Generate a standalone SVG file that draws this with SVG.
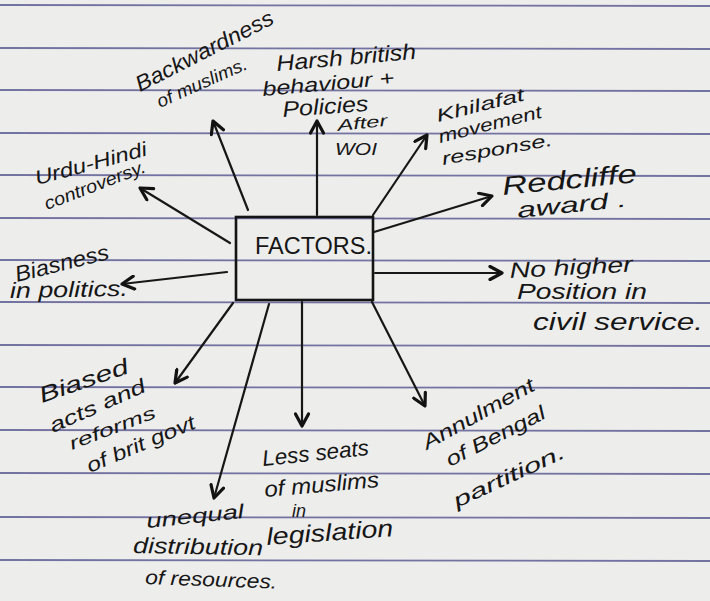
<svg xmlns="http://www.w3.org/2000/svg" width="710" height="601" viewBox="0 0 710 601">
<style>
.ruled{stroke:#5e5e94;stroke-width:1.8;opacity:0.85}
.ink{font-family:"Liberation Sans","DejaVu Sans",sans-serif;fill:#161616;font-style:italic}
.conn{stroke:#171717;stroke-width:2.2;fill:none;stroke-linecap:round;marker-end:url(#ah)}
</style>
<defs>
<marker id="ah" viewBox="0 0 16 16" refX="14" refY="8" markerWidth="16" markerHeight="16" markerUnits="userSpaceOnUse" orient="auto">
<path d="M2,1.5 L14,8 L2,14.5" fill="none" stroke="#121212" stroke-width="3.2" stroke-linecap="round" stroke-linejoin="round"/>
</marker>
</defs>
<rect x="0" y="0" width="710" height="601" fill="#ededec"/>
<g id="paper-lines">
<line class="ruled" x1="0" y1="5" x2="710" y2="6"/>
<line class="ruled" x1="0" y1="48" x2="710" y2="49"/>
<line class="ruled" x1="0" y1="90" x2="710" y2="91"/>
<line class="ruled" x1="0" y1="133" x2="710" y2="134"/>
<line class="ruled" x1="0" y1="175" x2="710" y2="176"/>
<line class="ruled" x1="0" y1="218" x2="710" y2="219"/>
<line class="ruled" x1="0" y1="260" x2="710" y2="261"/>
<line class="ruled" x1="0" y1="302" x2="710" y2="303"/>
<line class="ruled" x1="0" y1="345" x2="710" y2="346"/>
<line class="ruled" x1="0" y1="387" x2="710" y2="388"/>
<line class="ruled" x1="0" y1="430" x2="710" y2="431"/>
<line class="ruled" x1="0" y1="473" x2="710" y2="474"/>
<line class="ruled" x1="0" y1="517" x2="710" y2="518"/>
<line class="ruled" x1="0" y1="560" x2="710" y2="561"/>
</g>
<g id="connectors">
<line class="conn" x1="248" y1="210" x2="213" y2="121"/>
<line class="conn" x1="317" y1="215" x2="317" y2="121"/>
<line class="conn" x1="373" y1="215" x2="427" y2="135"/>
<line class="conn" x1="374" y1="232" x2="492" y2="196"/>
<line class="conn" x1="375" y1="273" x2="502" y2="273"/>
<line class="conn" x1="372" y1="302" x2="425" y2="406"/>
<line class="conn" x1="302" y1="302" x2="302" y2="426"/>
<line class="conn" x1="269" y1="304" x2="214" y2="498"/>
<line class="conn" x1="233" y1="303" x2="175" y2="383"/>
<line class="conn" x1="227" y1="272" x2="122" y2="284"/>
<line class="conn" x1="230" y1="243" x2="140" y2="188"/>
</g>
<g id="factors">
<rect x="236" y="217" width="137" height="83" fill="none" stroke="#141414" stroke-width="2.6"/>
<text class="ink" x="255" y="254" font-size="24" font-style="normal" textLength="117" lengthAdjust="spacingAndGlyphs" style="font-style:normal">FACTORS.</text>
</g>
<g id="backwardness">
<text class="ink" transform="translate(140,92) rotate(-27)" font-size="22" textLength="152" lengthAdjust="spacingAndGlyphs">Backwardness</text>
<text class="ink" transform="translate(160,108) rotate(-24)" font-size="18" textLength="97" lengthAdjust="spacingAndGlyphs">of muslims.</text>
</g>
<g id="harsh">
<text class="ink" transform="translate(277,71) rotate(-5)" font-size="22" textLength="140" lengthAdjust="spacingAndGlyphs">Harsh british</text>
<text class="ink" transform="translate(263,96) rotate(-5)" font-size="20" textLength="132" lengthAdjust="spacingAndGlyphs">behaviour +</text>
<text class="ink" transform="translate(283,117) rotate(-4)" font-size="22" textLength="86" lengthAdjust="spacingAndGlyphs">Policies</text>
<text class="ink" transform="translate(338,131) rotate(-6)" font-size="16" textLength="50" lengthAdjust="spacingAndGlyphs">After</text>
<text class="ink" x="335" y="155" font-size="17" textLength="42" lengthAdjust="spacingAndGlyphs">WOI</text>
</g>
<g id="khilafat">
<text class="ink" transform="translate(438,122) rotate(-14)" font-size="18" textLength="90" lengthAdjust="spacingAndGlyphs">Khilafat</text>
<text class="ink" transform="translate(440,143) rotate(-14)" font-size="18" textLength="106" lengthAdjust="spacingAndGlyphs">movement</text>
<text class="ink" transform="translate(443,165) rotate(-10)" font-size="18" textLength="112" lengthAdjust="spacingAndGlyphs">response.</text>
</g>
<g id="redcliffe">
<text class="ink" transform="translate(503,195) rotate(-5.5)" font-size="26" textLength="135" lengthAdjust="spacingAndGlyphs">Redcliffe</text>
<text class="ink" transform="translate(518,218) rotate(-6)" font-size="22" textLength="110" lengthAdjust="spacingAndGlyphs">award .</text>
</g>
<g id="no-higher">
<text class="ink" transform="translate(510,278) rotate(-3)" font-size="22" textLength="123" lengthAdjust="spacingAndGlyphs">No higher</text>
<text class="ink" x="517" y="299" font-size="22" textLength="130" lengthAdjust="spacingAndGlyphs">Position in</text>
<text class="ink" x="533" y="330" font-size="24" textLength="170" lengthAdjust="spacingAndGlyphs">civil service.</text>
</g>
<g id="urdu-hindi">
<text class="ink" transform="translate(37,185) rotate(-15)" font-size="20" textLength="115" lengthAdjust="spacingAndGlyphs">Urdu-Hindi</text>
<text class="ink" transform="translate(47,210) rotate(-21)" font-size="18" textLength="107" lengthAdjust="spacingAndGlyphs">controversy.</text>
</g>
<g id="biasness">
<text class="ink" transform="translate(17,282) rotate(-14)" font-size="22" textLength="96" lengthAdjust="spacingAndGlyphs">Biasness</text>
<text class="ink" transform="translate(10,298) rotate(-1)" font-size="22" textLength="118" lengthAdjust="spacingAndGlyphs">in politics.</text>
</g>
<g id="biased-acts">
<text class="ink" transform="translate(42,403) rotate(-19)" font-size="22" textLength="93" lengthAdjust="spacingAndGlyphs">Biased</text>
<text class="ink" transform="translate(53,433) rotate(-24)" font-size="20" textLength="103" lengthAdjust="spacingAndGlyphs">acts and</text>
<text class="ink" transform="translate(72,450) rotate(-21)" font-size="18" textLength="91" lengthAdjust="spacingAndGlyphs">reforms</text>
<text class="ink" transform="translate(90,473) rotate(-23)" font-size="20" textLength="116" lengthAdjust="spacingAndGlyphs">of brit govt</text>
</g>
<g id="unequal">
<text class="ink" transform="translate(147,528) rotate(-6)" font-size="20" textLength="98" lengthAdjust="spacingAndGlyphs">unequal</text>
<text class="ink" transform="translate(133,553) rotate(1)" font-size="22" textLength="130" lengthAdjust="spacingAndGlyphs">distribution</text>
<text class="ink" transform="translate(145,584) rotate(2)" font-size="20" textLength="132" lengthAdjust="spacingAndGlyphs">of resources.</text>
</g>
<g id="less-seats">
<text class="ink" transform="translate(263,466) rotate(-6)" font-size="22" textLength="107" lengthAdjust="spacingAndGlyphs">Less seats</text>
<text class="ink" transform="translate(265,497) rotate(-5)" font-size="22" textLength="115" lengthAdjust="spacingAndGlyphs">of muslims</text>
<text class="ink" x="292" y="517" font-size="18">in</text>
<text class="ink" transform="translate(267,545) rotate(-4)" font-size="24" textLength="127" lengthAdjust="spacingAndGlyphs">legislation</text>
</g>
<g id="annulment">
<text class="ink" transform="translate(427,450) rotate(-29)" font-size="20" textLength="125" lengthAdjust="spacingAndGlyphs">Annulment</text>
<text class="ink" transform="translate(450,467) rotate(-27)" font-size="20" textLength="109" lengthAdjust="spacingAndGlyphs">of Bengal</text>
<text class="ink" transform="translate(457,508) rotate(-25)" font-size="20" textLength="121" lengthAdjust="spacingAndGlyphs">partition.</text>
</g>
</svg>
